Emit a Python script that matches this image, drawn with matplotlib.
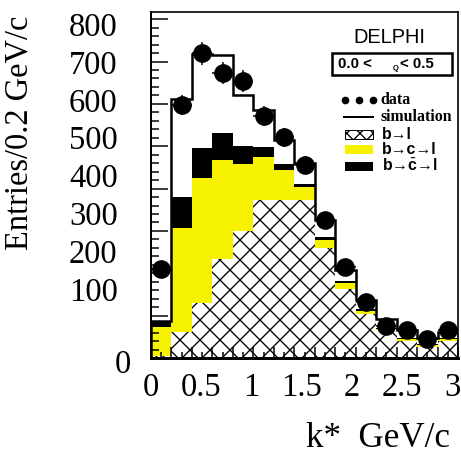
import numpy as np
import matplotlib
matplotlib.use("Agg")
import matplotlib.pyplot as plt
from matplotlib.patches import Rectangle
from matplotlib.ticker import MultipleLocator

# k* spectrum, 15 bins of 0.2 GeV/c
k_edges = np.linspace(0.0, 3.0, 16)
k_centers = 0.5 * (k_edges[:-1] + k_edges[1:])

data = [209, 597, 720, 672, 654, 571, 521, 455, 327, 215, 132, 76, 65, 44, 67]
data_err = [14, 24, 27, 26, 26, 24, 23, 21, 18, 15, 11, 9, 8, 7, 8]
simulation = [88, 612, 719, 715, 622, 586, 514, 460, 325, 207, 136, 93, 65, 48, 61]
b_l = [4, 62, 131, 233, 300, 373, 373, 372, 259, 163, 104, 65, 40, 27, 40]
b_c_l = [69, 245, 294, 234, 159, 102, 70, 32, 19, 15, 8, 4, 5, 4, 5]
b_cbar_l = [15, 73, 70, 65, 41, 23, 14, 8, 8, 3, 3, 3, 2, 2, 2]

x_labels = ["0", "0.5", "1", "1.5", "2", "2.5", "3"]
y_labels = ["100", "200", "300", "400", "500", "600", "700", "800"]

plt.rcParams["hatch.linewidth"] = 0.8
plt.rcParams["mathtext.fontset"] = "custom"
plt.rcParams["mathtext.bf"] = "Liberation Sans:bold"
plt.rcParams["mathtext.rm"] = "Liberation Sans"
serif = "Liberation Serif"
sans = "Liberation Sans"

fig = plt.figure(figsize=(461 / 120, 458 / 120), dpi=120)
pos = [151 / 461, 1 - 358 / 458, 307 / 461, 346 / 458]
ax = fig.add_axes(pos)

# stacked contributions: black on the bottom layer, yellow, then hatched b->l
top_l = np.array(b_l)
top_cl = top_l + np.array(b_c_l)
top_all = top_cl + np.array(b_cbar_l)
ax.stairs(top_all, k_edges, fill=True, color="black", lw=0)
ax.stairs(top_cl, k_edges, fill=True, color="#f7f200", lw=0)
ax.stairs(top_l, k_edges, fill=True, facecolor="white", edgecolor="black",
          hatch="xx", lw=0)
ax.stairs(simulation, k_edges, color="black", lw=1.5)

ax.errorbar(k_centers, data, yerr=data_err, xerr=0.1, fmt="o", color="black",
            ms=10.2, elinewidth=0.9, capsize=0, zorder=5)

ax.set_xlim(0, 3)
ax.set_ylim(0, 817)
for side in ["top", "right"]:
    ax.spines[side].set_linewidth(1.0)
ax.spines["left"].set_linewidth(1.2)
ax.spines["bottom"].set_linewidth(1.8)

ax.xaxis.set_major_locator(MultipleLocator(0.2))
ax.xaxis.set_minor_locator(MultipleLocator(0.1))
ax.yaxis.set_major_locator(MultipleLocator(100))
ax.yaxis.set_minor_locator(MultipleLocator(20))
ax.tick_params(which="both", direction="in", labelleft=False, labelbottom=False,
               width=0.9)
ax.tick_params(axis="y", which="major", length=10.2)
ax.tick_params(axis="y", which="minor", length=4.8)
ax.tick_params(axis="x", which="major", length=6.5)
ax.tick_params(axis="x", which="minor", length=3.5)

# axis numbers sit on their own overlay
lab = fig.add_axes(pos, frameon=False)
lab.set_xlim(0.03, 3.06)
lab.set_ylim(-82, 832)
lab.set_xticks(np.arange(0, 3.01, 0.5), x_labels)
lab.set_yticks(np.arange(100, 801, 100), y_labels)
lab.tick_params(length=0, labelsize=19.5)
lab.tick_params(axis="x", pad=9)
lab.tick_params(axis="y", pad=20)
for t in lab.get_xticklabels() + lab.get_yticklabels():
    t.set_fontfamily(serif)
lab.patch.set_visible(False)
ax.text(-0.091, -0.02, "0", transform=ax.transAxes, ha="center", va="center",
        fontsize=19.5, family=serif)

ax.set_ylabel("Entries/0.2 GeV/c", fontsize=19.5, family=serif)
ax.yaxis.set_label_coords(-0.378, 0.65)
ax.set_xlabel("k*  GeV/c", fontsize=21, family=serif, ha="right")
ax.xaxis.set_label_coords(0.974, -0.185)

# experiment tag and cut box
ax.text(0.775, 0.925, "DELPHI", transform=ax.transAxes, ha="center",
        va="center", fontsize=12, family=sans)
ax.add_patch(Rectangle((0.590, 0.818), 0.39, 0.0635, transform=ax.transAxes,
                       fill=False, lw=1.5, color="black", zorder=6))
ax.text(0.609, 0.850, "0.0 <", transform=ax.transAxes, ha="left", va="center",
        fontsize=9, weight="bold", family=sans)
ax.text(0.796, 0.838, "Q", transform=ax.transAxes, ha="center", va="center",
        fontsize=4.5, weight="bold", family=sans)
ax.text(0.811, 0.850, "< 0.5", transform=ax.transAxes, ha="left", va="center",
        fontsize=9, weight="bold", family=sans)

# key
ax.plot([0.632, 0.678, 0.723], [0.7457] * 3, "o", color="black", ms=3.6,
        transform=ax.transAxes, clip_on=False)
ax.text(0.746, 0.7457, "data", transform=ax.transAxes, ha="left", va="center",
        fontsize=9.5, weight="bold", family=serif)
ax.plot([0.629, 0.723], [0.697, 0.697], color="black", lw=1.2,
        transform=ax.transAxes)
ax.text(0.746, 0.697, "simulation", transform=ax.transAxes, ha="left",
        va="center", fontsize=9.5, weight="bold", family=serif)

key_boxes = [
    (0.633, dict(facecolor="white", edgecolor="black", hatch="xxx", lw=0.6), "b\u2192l"),
    (0.5896, dict(facecolor="#f7f200", edgecolor="none"), "b\u2192c\u2192l"),
    (0.541, dict(facecolor="black", edgecolor="none"), "b\u2192$\\bar{\\mathbf{c}}$\u2192l"),
]
for y0, style, name in key_boxes:
    ax.add_patch(Rectangle((0.632, y0), 0.091, 0.026, transform=ax.transAxes,
                           **style))
    ax.text(0.752, y0 + 0.013, name, transform=ax.transAxes, ha="left",
            va="center", fontsize=9.5, weight="bold", family=[sans, "DejaVu Sans"])

fig.savefig("out.png", dpi=120)
